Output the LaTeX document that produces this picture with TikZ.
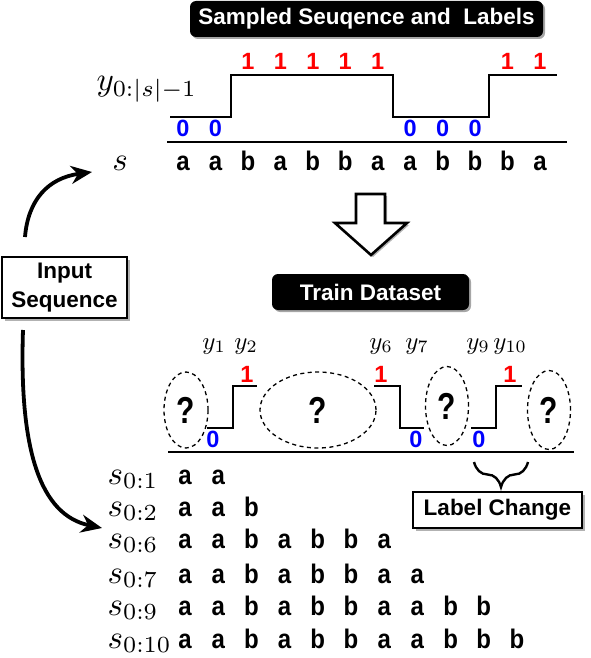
\documentclass[tikz,border=0pt]{standalone}
\usepackage{fontspec}
\newfontfamily\hv{Liberation Sans}
\usetikzlibrary{arrows.meta,shadows,decorations.pathreplacing,shapes.geometric}
\newcommand{\tallq}[1]{\scalebox{1}[1.12]{#1}}
\begin{document}
\begin{tikzpicture}[x=1pt,y=-1pt,
  lt/.style={font=\hv\bfseries\fontsize{24}{28}\selectfont, inner sep=0pt, anchor=base},
  dg/.style={font=\hv\bfseries\fontsize{23.5}{28}\selectfont, inner sep=0pt, anchor=base},
  one/.style={dg, text=red},
  zero/.style={dg, text=blue},
  ms/.style={inner sep=0pt, scale=3.3},
  ysm/.style={inner sep=0pt, scale=2.5, anchor=base},
  bbox/.style={fill=black, rounded corners=6pt, text=white, inner sep=0pt,
    font=\hv\bfseries\fontsize{22.5}{27}\selectfont,
    drop shadow={shadow xshift=2pt, shadow yshift=-2pt, fill=black!35, opacity=1}},
  wbox/.style={draw=black, line width=2pt, fill=white, inner sep=0pt,
    font=\hv\bfseries\fontsize{22.5}{29}\selectfont,
    drop shadow={shadow xshift=3pt, shadow yshift=-3pt, fill=black!30, opacity=1}},
  stepline/.style={line width=2.8pt, line join=miter},
  baseln/.style={line width=2.8pt},
  qell/.style={ellipse, draw=black, line width=1.3pt, dash pattern=on 4pt off 3.5pt,
    inner sep=0pt, font=\hv\bfseries\fontsize{30}{32}\selectfont},
  bigarrow/.style={line width=3.8pt, -{Stealth[length=21pt,width=18pt]}},
]
\useasboundingbox (0,0) rectangle (590,658);

% ---------- top part ----------
\node[bbox, minimum width=353pt, minimum height=36pt] (title) at (366.5,19) {Sampled Seuqence and\ \ Labels};

\node[ms, anchor=base west] (ylab) at (96,91) {$y_{0:|s|-1}$};
\draw[stepline] (170,117) -- (231,117) -- (231,75) -- (393,75) -- (393,117) -- (489,117) -- (489,75) -- (557,75);
\draw[baseln] (167,142) -- (567,142);

\foreach \c [count=\i from 0] in {a,a,b,a,b,b,a,a,b,b,b,a}
  \node[lt] (t\i) at ({183+32.45*\i},170) {\tallq{\c}};
\foreach \i in {2,3,4,5,6,10,11}
  \node[one] (o\i) at ({183+32.45*\i},70) {1};
\foreach \i in {0,1,7,8,9}
  \node[zero] (z\i) at ({183+32.45*\i},136) {0};
\node[ms, anchor=base] (s) at (120,170) {$s$};

% ---------- block arrow ----------
\draw[line width=2.6pt, line join=miter, fill=white,
  drop shadow={shadow xshift=2pt, shadow yshift=-2pt, fill=black!30, opacity=1}]
  (356,194) -- (385,194) -- (385,223) -- (407,223) -- (371,255) -- (335,223) -- (356,223) -- cycle;

\node[bbox, minimum width=197pt, minimum height=36pt] (train) at (370.5,292) {Train Dataset};

% ---------- input sequence ----------
\node[wbox, minimum width=125pt, minimum height=61pt, align=center] (inp) at (64.5,287.5) {Input\\Sequence};
\coordinate (u1) at (25,237);
\coordinate (u2) at (92,172);
\draw[bigarrow] (u1) .. controls (28,200) and (48,178) .. (u2);
\coordinate (d1) at (23,330);
\coordinate (d2) at (102,528);
\draw[bigarrow] (d1) .. controls (19,450) and (40,515) .. (d2);

% ---------- lower panel ----------
\node[ysm] (y1) at (214,349) {$y_1$};
\node[ysm] (y2) at (246,349) {$y_2$};
\node[ysm] (y6) at (381,349) {$y_6$};
\node[ysm] (y7) at (417,349) {$y_7$};
\node[ysm] (y9) at (478,349) {$y_9$};
\node[ysm] (y10) at (510,349) {$y_{10}$};

\draw[stepline] (207,428) -- (233,428) -- (233,386) -- (257,386);
\draw[stepline] (374,386) -- (400,386) -- (400,428) -- (424,428);
\draw[stepline] (471,428) -- (496,428) -- (496,386) -- (522,386);
\draw[baseln] (168,452) -- (574,452);

\node[one] (l1a) at (247,382) {1};
\node[one] (l1b) at (381,382) {1};
\node[one] (l1c) at (510,382) {1};
\node[zero] (l0a) at (213,447) {0};
\node[zero] (l0b) at (416,447) {0};
\node[zero] (l0c) at (479,447) {0};

\node[qell, minimum width=44pt, minimum height=76pt] (q1) at (186,410) {\scalebox{1}[1.25]{?}};
\node[qell, minimum width=116pt, minimum height=76pt] (q2) at (318,410) {\scalebox{1}[1.25]{?}};
\node[qell, minimum width=43pt, minimum height=79pt] (q3) at (447,406) {\scalebox{1}[1.25]{?}};
\node[qell, minimum width=43pt, minimum height=79pt] (q4) at (549,410) {\scalebox{1}[1.25]{?}};

\coordinate (br1) at (528,462);
\coordinate (br2) at (474,462);
\draw[line width=2.4pt, decorate, decoration={brace, amplitude=25pt}] (br1) -- (br2);
\node[wbox, minimum width=169pt, minimum height=36pt] (lc) at (497.5,510) {Label Change};

\foreach \k/\n/\yy in {1/2/484, 2/3/516, 6/7/548, 7/8/583, 9/10/615, 10/11/648} {
  \node[ms, anchor=base west] (sl\k) at (107,\yy) {$s_{0:\k}$};
  \foreach \c [count=\i from 0] in {a,a,b,a,b,b,a,a,b,b,b} {
    \ifnum\i<\n
      \node[lt] (r\k-\i) at ({185+33.2*\i},\yy) {\tallq{\c}};
    \fi
  }
}
\end{tikzpicture}
\end{document}
